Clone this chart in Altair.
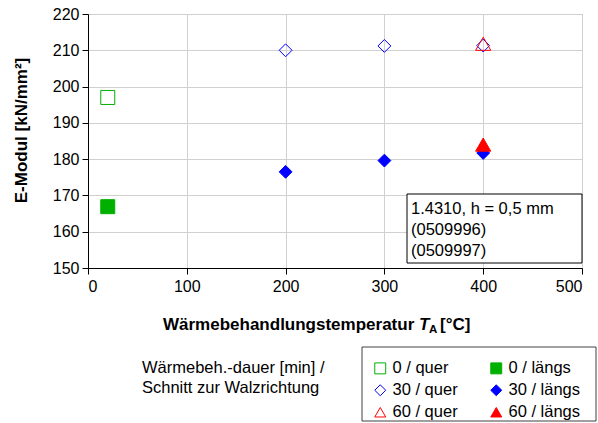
import altair as alt
import pandas as pd

# ---- data ----
series_names = ["0 / quer", "0 / längs", "30 / quer", "30 / längs", "60 / quer", "60 / längs"]
temp_0 = [20]
quer_0 = [197.0]
laengs_0 = [166.9]
temp_30 = [200, 300, 400]
quer_30 = [210.0, 211.2, 211.3]
laengs_30 = [176.5, 179.6, 181.7]
temp_60 = [400]
quer_60 = [211.8]
laengs_60 = [184.0]

x_ticks = [0, 100, 200, 300, 400, 500]
y_ticks = [150, 160, 170, 180, 190, 200, 210, 220]

info_lines = ["1.4310, h = 0,5 mm", "(0509996)", "(0509997)"]
legend_title_lines = ["Wärmebeh.-dauer [min] /", "Schnitt zur Walzrichtung"]
x_title_parts = ["Wärmebehandlungstemperatur", "T", "A", "[°C]"]
y_title = "E-Modul [kN/mm²]"

# legend is filled column by column: quer column first, then längs column
legend_order = ["0 / quer", "30 / quer", "60 / quer", "0 / längs", "30 / längs", "60 / längs"]

# ---- styles (same order as legend_order) ----
shapes = ["square", "diamond", "triangle-up", "square", "diamond", "triangle-up"]
strokes = ["#00b000", "#0000ff", "#ff0000", "#00b000", "#0000ff", "#ff0000"]
fills = ["transparent", "transparent", "transparent", "#00b000", "#0000ff", "#ff0000"]

FONT = "Liberation Sans"

rows = []
for s, xs, ys in [
    (series_names[0], temp_0, quer_0),
    (series_names[1], temp_0, laengs_0),
    (series_names[2], temp_30, quer_30),
    (series_names[3], temp_30, laengs_30),
    (series_names[4], temp_60, quer_60),
    (series_names[5], temp_60, laengs_60),
]:
    for xv, yv in zip(xs, ys):
        rows.append({"series": s, "dauer": s.split(" ")[0], "T": xv, "E": yv})
df = pd.DataFrame(rows)

W, H = 494, 254

leg = alt.Legend(
    title=None, orient="none", legendX=284, legendY=346, columns=2,
    columnPadding=30, rowPadding=5, labelFontSize=16.5, labelFont=FONT,
    labelColor="black", symbolSize=120, symbolStrokeWidth=1, labelOffset=4,
    padding=0,
)

x_enc = alt.X("T:Q", scale=alt.Scale(domain=[0, 500], nice=False),
              axis=alt.Axis(values=x_ticks, title=None, labelFontSize=16, labelFont=FONT,
                            labelColor="black", grid=True, gridColor="#d0d0d0",
                            domainColor="black", tickColor="black", tickSize=6,
                            labelPadding=4))
y_enc = alt.Y("E:Q", scale=alt.Scale(domain=[150, 220], nice=False, zero=False),
              axis=alt.Axis(values=y_ticks, title=y_title, labelFontSize=16, labelFont=FONT,
                            labelColor="black", grid=True, gridColor="#d0d0d0",
                            domainColor="black", tickColor="black", tickSize=6,
                            labelPadding=3, titleFont=FONT, titleFontSize=17,
                            titleFontWeight="bold", titleColor="black",
                            titleX=-62, titleY=116, titleBaseline="alphabetic"))
enc = dict(
    x=x_enc, y=y_enc,
    stroke=alt.Stroke("series:N", scale=alt.Scale(domain=legend_order, range=strokes), legend=leg),
    fill=alt.Fill("series:N", scale=alt.Scale(domain=legend_order, range=fills), legend=leg),
    shape=alt.Shape("series:N", scale=alt.Scale(domain=legend_order, range=shapes), legend=leg),
)

base = alt.Chart(df)
pts_sq = base.transform_filter(alt.datum.dauer == "0").mark_point(
    opacity=1, strokeWidth=1, size=196).encode(**enc)
pts_di = base.transform_filter(alt.datum.dauer == "30").mark_point(
    opacity=1, strokeWidth=1, size=165).encode(**enc)
pts_tr = base.transform_filter(alt.datum.dauer == "60").mark_point(
    opacity=1, strokeWidth=1, size=230).encode(**enc)

one = pd.DataFrame({"k": [0]})

info_box = alt.Chart(one).mark_rect(fill="white", stroke="black", strokeWidth=1).encode(
    x=alt.value(319), x2=alt.value(W), y=alt.value(180), y2=alt.value(249))

info_df = pd.DataFrame({"t": info_lines, "yy": [200, 221, 242]})
info_text = alt.Chart(info_df).mark_text(
    align="left", baseline="alphabetic", font=FONT, fontSize=16.5, color="black"
).encode(x=alt.value(323), y=alt.Y("yy:Q", scale=None), text="t:N")

legend_box = alt.Chart(one).mark_rect(fill="transparent", stroke="#404040", strokeWidth=1).encode(
    x=alt.value(274), x2=alt.value(508), y=alt.value(333), y2=alt.value(407))

lt_df = pd.DataFrame({"t": legend_title_lines, "yy": [359, 379]})
legend_title = alt.Chart(lt_df).mark_text(
    align="left", baseline="alphabetic", font=FONT, fontSize=16.5, color="black"
).encode(x=alt.value(54), y=alt.Y("yy:Q", scale=None), text="t:N")

xt_main = alt.Chart(one).mark_text(
    align="left", baseline="alphabetic", font=FONT, fontSize=17, fontWeight="bold",
    color="black", text=x_title_parts[0]).encode(x=alt.value(75), y=alt.value(316))
xt_T = alt.Chart(one).mark_text(
    align="left", baseline="alphabetic", font=FONT, fontSize=17, fontWeight="bold",
    fontStyle="italic", color="black", text=x_title_parts[1]).encode(x=alt.value(331), y=alt.value(316))
xt_A = alt.Chart(one).mark_text(
    align="left", baseline="alphabetic", font=FONT, fontSize=11.5, fontWeight="bold",
    color="black", text=x_title_parts[2]).encode(x=alt.value(341), y=alt.value(319))
xt_C = alt.Chart(one).mark_text(
    align="left", baseline="alphabetic", font=FONT, fontSize=17, fontWeight="bold",
    color="black", text=x_title_parts[3]).encode(x=alt.value(352), y=alt.value(316))

chart = alt.layer(
    pts_sq, pts_di, pts_tr, info_box, info_text, legend_box, legend_title,
    xt_main, xt_T, xt_A, xt_C
).properties(
    width=W, height=H,
    padding={"left": 88, "top": 14, "right": 16, "bottom": 155},
    autosize=alt.AutoSizeParams(type="none"),
    background="white",
).configure_view(stroke="#808080", strokeWidth=1)

chart.save("out.html", embed_options={"renderer": "svg", "actions": False})
